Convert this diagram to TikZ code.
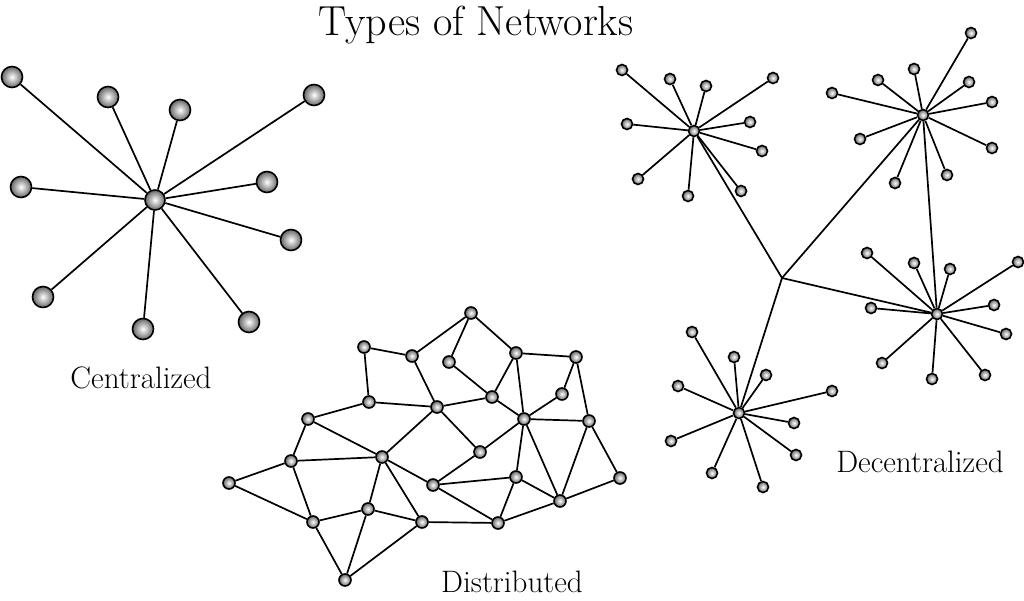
\documentclass[tikz,border=0pt]{standalone}
\begin{document}
\begin{tikzpicture}[x=1pt,y=-1pt,
  ball/.style={circle,draw=black,line width=1.6pt,inner sep=0pt,
    inner color=white,outer color=black!60},
  bigball/.style={ball,minimum size=21pt},
  midball/.style={ball,minimum size=12pt},
  smallball/.style={ball,minimum size=11pt},
  link/.style={line width=1.7pt,black},
  lbl/.style={font=\fontsize{31}{35}\selectfont,inner sep=0pt,anchor=base}
]
\useasboundingbox (0,0) rectangle (1024,601);
\fill[white] (0,0) rectangle (1024,601);

\node[font=\fontsize{42}{46}\selectfont,inner sep=0pt,anchor=base] (title) at (476,36) {Types of Networks};

% ---------------- Centralized ----------------
\node[bigball,minimum size=20pt] (c0) at (155,200) {};
\foreach \n/\x/\y in {1/12/77,2/108/97,3/180/110,4/314/95,5/21/187,6/267/182,7/291/240,8/43/297,9/143/329,10/249/322}
  {\node[bigball] (c\n) at (\x,\y) {};}
\foreach \n in {1,...,10} {\draw[link] (c0) -- (c\n);}
\node[lbl] (clabel) at (141,388) {Centralized};

% ---------------- Distributed ----------------
\foreach \n/\x/\y in {A/364/347,B/412/356,C/369/402,D/308/419,E/382/457,F/291/461,G/229/483,
  H/368/509,I/313/522,J/422/522,K/345/580,P/471/313,Q/449/362,R/516/353,S/576/357,
  T/492/397,U/562/394,V/437/407,W/524/419,X/589/421,Y/480/452,Z/516/477,AA/433/485,
  BB/620/478,CC/560/501,DD/498/523}
  {\node[midball] (d\n) at (\x,\y) {};}
\foreach \a/\b in {A/B,A/C,B/P,B/V,C/V,C/D,D/E,D/F,F/E,F/G,G/I,F/I,I/H,I/K,H/K,H/E,H/J,
  E/J,E/AA,E/V,K/J,J/DD,P/Q,P/R,Q/T,R/T,R/S,R/W,S/U,S/X,T/V,T/W,U/W,W/X,W/Y,W/Z,W/CC,
  V/Y,Y/AA,AA/Z,AA/DD,Z/DD,Z/CC,X/CC,X/BB,BB/CC,CC/DD}
  {\draw[link] (d\a) -- (d\b);}
\node[lbl] (dlabel) at (512,592) {Distributed};

% ---------------- Decentralized ----------------
\coordinate (hub) at (782,278);
% cluster 1
\node[smallball] (k1) at (694,131) {};
\foreach \n/\x/\y in {1/622/70,2/670/79,3/706/86,4/773/78,5/627/124,6/750/122,7/762/151,8/638/179,9/688/196,10/741/191}
  {\node[smallball] (k1l\n) at (\x,\y) {};}
% cluster 2
\node[smallball] (k2) at (923,115) {};
\foreach \n/\x/\y in {1/971/33,2/914/69,3/878/80,4/969/82,5/832/93,6/992/102,7/860/139,8/992/148,9/895/183,10/947/175}
  {\node[smallball] (k2l\n) at (\x,\y) {};}
% cluster 3
\node[smallball] (k3) at (937,314) {};
\foreach \n/\x/\y in {1/867/253,2/914/263,3/950/269,4/1018/262,5/871/308,6/994/305,7/1006/334,8/882/363,9/932/379,10/985/375}
  {\node[smallball] (k3l\n) at (\x,\y) {};}
% cluster 4
\node[smallball] (k4) at (739,413) {};
\foreach \n/\x/\y in {1/692/332,2/734/357,3/766/375,4/832/391,5/678/386,6/794/423,7/671/441,8/796/455,9/712/473,10/763/487}
  {\node[smallball] (k4l\n) at (\x,\y) {};}
\foreach \k in {1,2,3,4}{
  \foreach \n in {1,...,10} {\draw[link] (k\k) -- (k\k l\n);}
  \draw[link] (hub) -- (k\k);
}
\draw[link] (k2) -- (k3);
\node[lbl] (zlabel) at (920,472) {Decentralized};
\end{tikzpicture}
\end{document}
